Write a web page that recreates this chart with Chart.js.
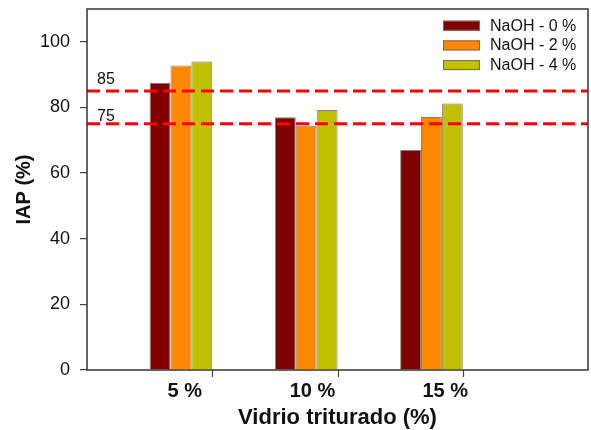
<!DOCTYPE html>
<html>
<head>
<meta charset="utf-8">
<script src="https://cdn.jsdelivr.net/npm/chart.js@4.4.1/dist/chart.umd.min.js"></script>
<style>
  html, body { margin: 0; padding: 0; background: #fff; }
  #wrap { width: 591px; height: 430px; position: relative; }
</style>
</head>
<body>
<div id="wrap"><canvas id="c" width="591" height="430"></canvas></div>
<script>
// ---- data ----
const groups = ['5 %', '10 %', '15 %'];
const seriesNames = ['NaOH - 0 %', 'NaOH - 2 %', 'NaOH - 4 %'];
const naoh0 = [87.5, 77.0, 67.0];
const naoh2 = [92.8, 74.4, 77.1];
const naoh4 = [94.0, 79.2, 81.2];
const refLines = [85, 75];
const yTicks = [0, 20, 40, 60, 80, 100];

const FONT = "'Liberation Sans', Arial, sans-serif";
const colors = ['#800000', '#ff8800', '#c0c000'];
const xMin = 0.25, xMax = 4.25;

function toPoints(vals) { return vals.map((v, i) => ({ x: i + 1, y: v })); }

const barSets = [naoh0, naoh2, naoh4].map((vals, k) => ({
  type: 'bar',
  label: seriesNames[k],
  data: toPoints(vals),
  backgroundColor: colors[k],
  borderColor: '#8a8070',
  borderWidth: 1,
  categoryPercentage: 0.5,
  barPercentage: 1.0,
  order: 2
}));

const lineSets = refLines.map(v => ({
  type: 'line',
  label: 'ref ' + v,
  data: [{ x: xMin, y: v }, { x: xMax, y: v }],
  borderColor: '#ff0000',
  borderWidth: 3,
  borderDash: [13, 6],
  pointRadius: 0,
  fill: false,
  order: 0
}));

// label positions of x tick text (slightly right of group centers, as in the figure)
const xLabelPos = [1.03, 2.05, 3.11];

const framePlugin = {
  id: 'frame',
  afterDraw(chart) {
    const { ctx, chartArea: a, scales } = chart;
    ctx.save();
    ctx.strokeStyle = '#333';
    ctx.lineWidth = 1.5;
    ctx.strokeRect(a.left, a.top, a.right - a.left, a.bottom - a.top);
    // x tick marks at right edge of each group
    ctx.lineWidth = 1.2;
    ctx.strokeStyle = '#444';
    groups.forEach((g, i) => {
      const px = Math.round(scales.x.getPixelForValue(i + 1 + 0.25)) + 0.5;
      ctx.beginPath();
      ctx.moveTo(px, a.bottom);
      ctx.lineTo(px, a.bottom + 7);
      ctx.stroke();
    });
    // reference line labels
    ctx.fillStyle = '#111';
    ctx.font = '16px ' + FONT;
    ctx.textAlign = 'left';
    ctx.textBaseline = 'alphabetic';
    refLines.forEach((v, i) => {
      const py = scales.y.getPixelForValue(v);
      ctx.fillText(String(v), a.left + 10, py - (i === 0 ? 7 : 2.5));
    });
    // legend
    const boxL = a.right - 145, textL = a.right - 98;
    seriesNames.forEach((n, i) => {
      const top = a.top + 11.7 + i * 19.7;
      ctx.fillStyle = colors[i];
      ctx.fillRect(boxL, top, 37, 10);
      ctx.strokeStyle = '#7a6a55';
      ctx.lineWidth = 1;
      ctx.strokeRect(boxL + 0.5, top + 0.5, 36, 9);
      ctx.fillStyle = '#111';
      ctx.textBaseline = 'middle';
      ctx.fillText(n, textL, top + 5.5);
    });
    ctx.restore();
  }
};

new Chart(document.getElementById('c'), {
  type: 'bar',
  data: { datasets: [...barSets, ...lineSets] },
  options: {
    responsive: false,
    animation: false,
    layout: { padding: { left: 0, top: 9, right: 3, bottom: 0 } },
    plugins: { legend: { display: false }, tooltip: { enabled: false } },
    scales: {
      x: {
        type: 'linear',
        min: xMin, max: xMax,
        offset: false,
        afterFit(s) { s.height = 60; s.paddingLeft = 0; s.paddingRight = 0; },
        afterBuildTicks(s) { s.ticks = xLabelPos.map(v => ({ value: v })); },
        grid: { display: false, drawTicks: false },
        border: { display: false },
        ticks: {
          padding: 9,
          color: '#111',
          font: { family: FONT, size: 20, weight: 'bold' },
          callback: (v, i) => groups[i],
          maxRotation: 0, autoSkip: false
        },
        title: {
          display: true,
          text: 'Vidrio triturado (%)',
          color: '#111',
          font: { family: FONT, size: 22, weight: 'bold' },
          padding: { top: 0, bottom: -1 }
        }
      },
      y: {
        min: 0, max: 110,
        afterFit(s) { s.width = 87; s.paddingTop = 0; s.paddingBottom = 0; },
        afterBuildTicks(s) { s.ticks = yTicks.map(v => ({ value: v })); },
        grid: { drawOnChartArea: false, drawTicks: true, tickLength: 7, color: '#444', lineWidth: 1.2 },
        border: { display: false },
        ticks: {
          padding: 10,
          color: '#111',
          font: { family: FONT, size: 18 }
        },
        title: {
          display: true,
          text: 'IAP (%)',
          color: '#111',
          font: { family: FONT, size: 20, weight: 'bold' },
          padding: { top: 12, bottom: 0 }
        }
      }
    }
  },
  plugins: [framePlugin]
});
</script>
</body>
</html>
